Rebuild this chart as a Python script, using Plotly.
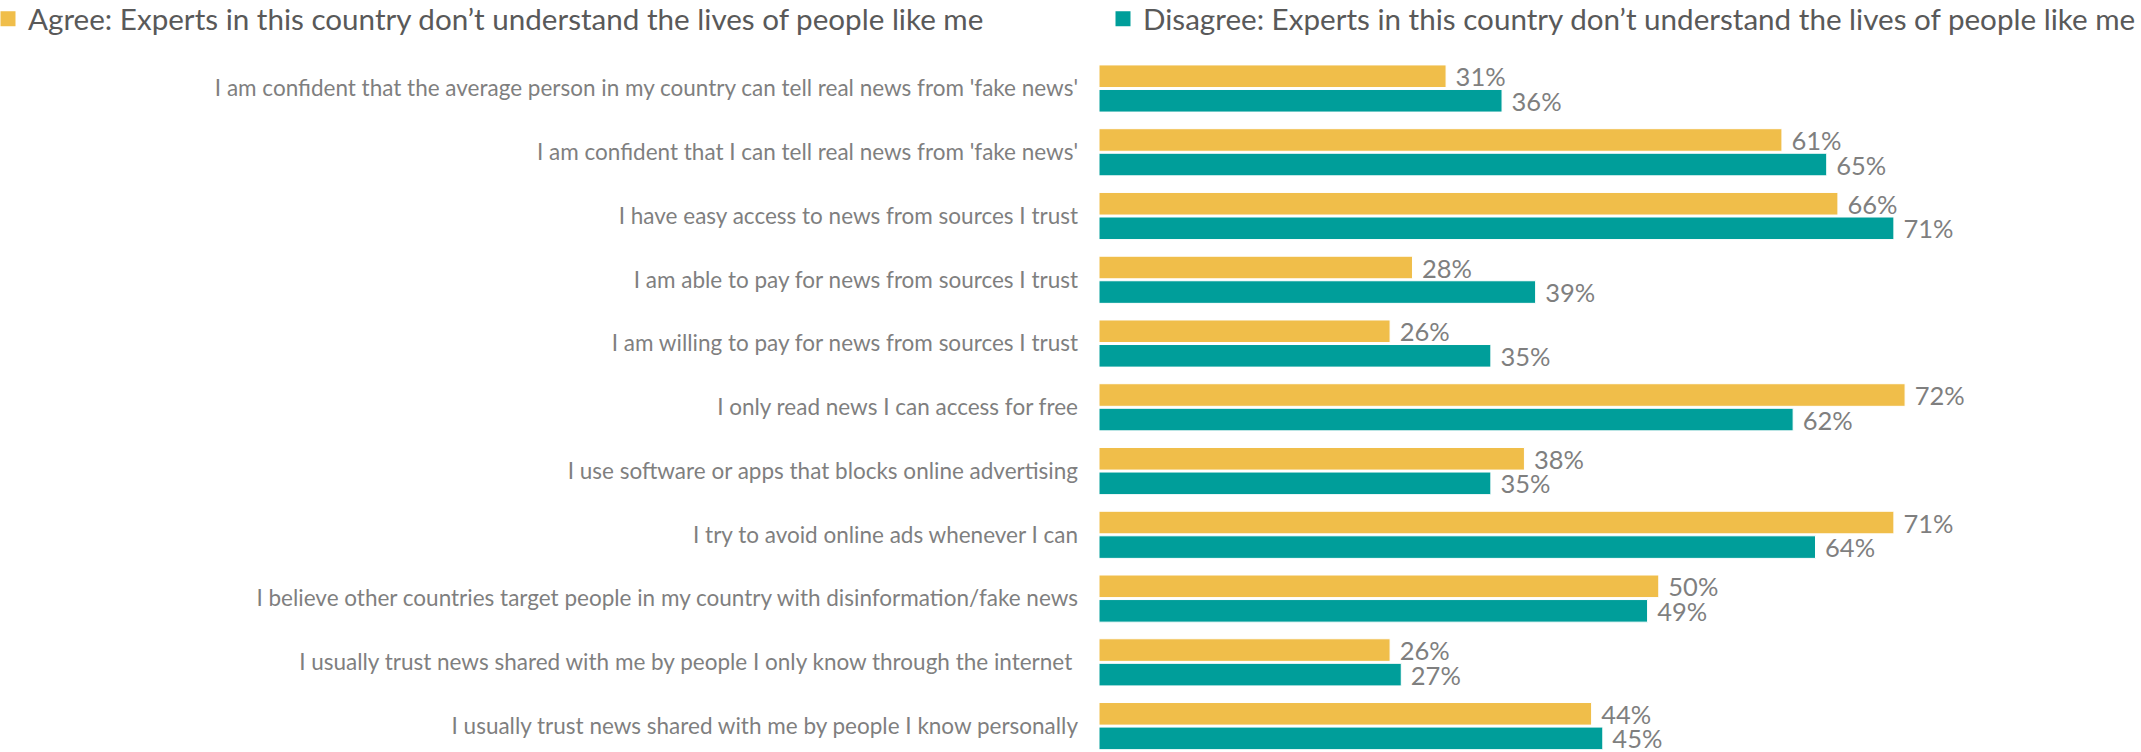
import plotly.graph_objects as go

categories = [
    "I am confident that the average person in my country can tell real news from 'fake news'",
    "I am confident that I can tell real news from 'fake news'",
    "I have easy access to news from sources I trust",
    "I am able to pay for news from sources I trust",
    "I am willing to pay for news from sources I trust",
    "I only read news I can access for free",
    "I use software or apps that blocks online advertising",
    "I try to avoid online ads whenever I can",
    "I believe other countries target people in my country with disinformation/fake news",
    "I usually trust news shared with me by people I only know through the internet ",
    "I usually trust news shared with me by people I know personally",
]
agree = [31, 61, 66, 28, 26, 72, 38, 71, 50, 26, 44]
disagree = [36, 65, 71, 39, 35, 62, 35, 64, 49, 27, 45]
series_names = [
    "Agree: Experts in this country don\u2019t understand the lives of people like me",
    "Disagree: Experts in this country don\u2019t understand the lives of people like me",
]
colors = ["#F0BE4A", "#009E9A"]

FONT = "Lato, 'Open Sans', sans-serif"
W, H = 2141, 752
ML, MR, MT, MB = 1099, 12, 50, 0
plot_w = W - ML - MR
plot_h = H - MT - MB
pitch = 63.76
vtop = -(88.5 - MT) / pitch
vbot = vtop + plot_h / pitch

fig = go.Figure()
legend_ids = ["legend", "legend2"]
for name, vals, col in zip(series_names, [agree, disagree], colors):
    fig.add_trace(go.Bar(
        y=categories, x=vals, name=name, orientation="h",
        marker=dict(color=col, line=dict(color="white", width=1)),
        text=[f"\u00a0{v}%" for v in vals], textposition="outside",
        constraintext="none",
        textfont=dict(family=FONT, size=25.5, color="#7F7F7F"),
        cliponaxis=False, showlegend=False,
    ))
for name, col, lg in zip(series_names, colors, legend_ids):
    fig.add_trace(go.Scatter(
        x=[None], y=[None], mode="markers", name=name,
        marker=dict(symbol="square", size=15, color=col),
        showlegend=True, legend=lg, hoverinfo="skip",
    ))

legend_common = dict(
    orientation="h", yanchor="middle", y=1 + 31 / plot_h,
    font=dict(family=FONT, size=29.6, color="#595959"),
    bgcolor="rgba(0,0,0,0)", borderwidth=0,
)
fig.update_layout(
    width=W, height=H,
    margin=dict(l=ML, r=MR, t=MT, b=MB, pad=0, autoexpand=False),
    paper_bgcolor="white", plot_bgcolor="white",
    barmode="group", bargap=0.23, bargroupgap=0.08,
    font=dict(family=FONT, color="#7F7F7F"),
    showlegend=True,
    legend=dict(x=(-12 - ML) / plot_w, xanchor="left", **legend_common),
    legend2=dict(x=(1103 - ML) / plot_w, xanchor="left", **legend_common),
    xaxis=dict(range=[0, 92], visible=False, fixedrange=True),
    yaxis=dict(
        range=[vbot, vtop], showgrid=False, zeroline=False, showline=False,
        ticks="", ticklabelstandoff=20, automargin=False, type="category",
        tickfont=dict(family=FONT, size=22.5, color="#7F7F7F"),
    ),
)

fig.write_html(
    "out.html",
    config={"displayModeBar": False},
    post_script="document.body.style.margin='0';document.body.style.overflow='hidden';",
)
